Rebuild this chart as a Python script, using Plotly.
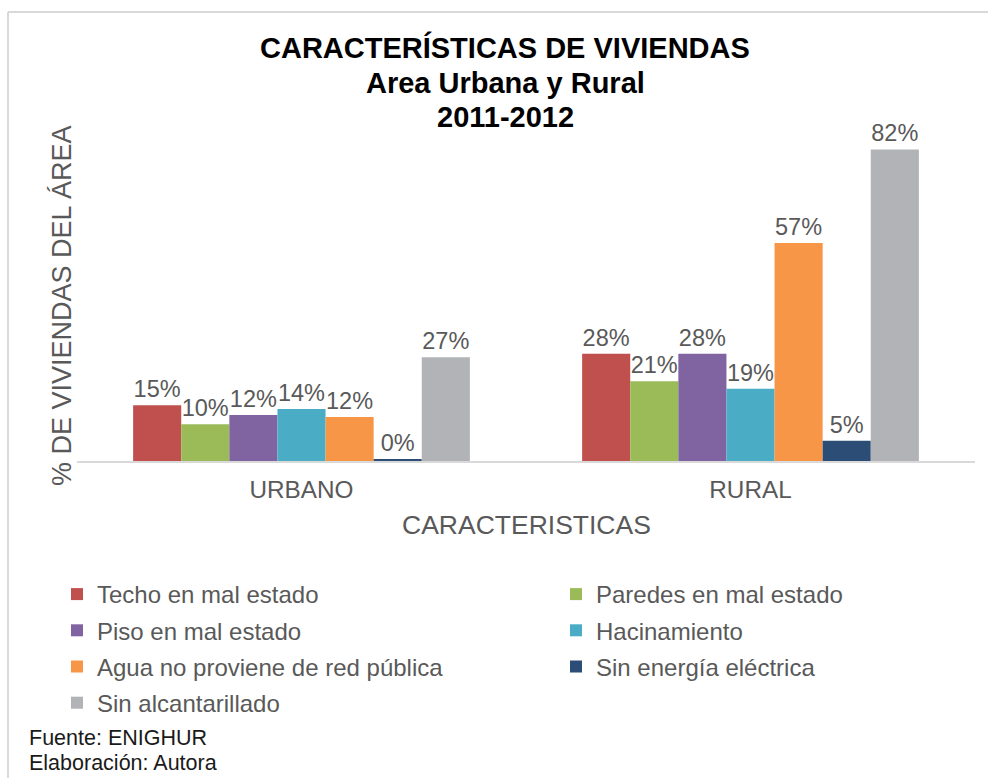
import plotly.graph_objects as go

categories = ["URBANO", "RURAL"]
series_names = [
    "Techo en mal estado",
    "Paredes en mal estado",
    "Piso en mal estado",
    "Hacinamiento",
    "Agua no proviene de red pública",
    "Sin energía eléctrica",
    "Sin alcantarillado",
]
urbano = [14.7, 9.7, 12.1, 13.7, 11.6, 0.3, 27.3]
rural = [28.2, 21.0, 28.2, 19.0, 57.4, 5.3, 82.0]
colors = ["#C0504D", "#9BBB59", "#8064A2", "#4BACC6", "#F79646", "#2C4D75", "#B2B3B7"]
title_lines = ["CARACTERÍSTICAS DE VIVIENDAS", "Area Urbana y Rural", "2011-2012"]

W, H = 988, 778
L, R, T, B = 77, 13, 138, 317
pw, ph = W - L - R, H - T - B

def px_x(x):
    return (x - L) / pw

def px_y(y):
    return (H - B - y) / ph

FONT = "Liberation Sans, Arial, sans-serif"
GREY = "#595959"

fig = go.Figure()
for i, name in enumerate(series_names):
    fig.add_trace(go.Bar(
        x=categories, y=[urbano[i], rural[i]], name=name,
        marker=dict(color=colors[i], line=dict(width=0)),
        texttemplate="%{y:.0f}%", textposition="outside",
        textfont=dict(size=23.5, color=GREY, family=FONT),
        cliponaxis=False, constraintext="none",
        legend="legend" if i % 2 == 0 else "legend2",
        legendgroup=f"g{i}",
    ))

leg_common = dict(
    orientation="v", xref="container", yref="container",
    xanchor="left", yanchor="top",
    font=dict(size=24, color=GREY, family=FONT),
    traceorder="grouped", tracegroupgap=2, itemwidth=30,
    bgcolor="rgba(0,0,0,0)",
)

annotations = [
    dict(text="% DE VIVIENDAS DEL ÁREA", textangle=-90,
         xref="paper", yref="paper", x=px_x(62), y=px_y(306),
         xanchor="center", yanchor="middle", showarrow=False,
         font=dict(size=27, color=GREY, family=FONT)),
    dict(text="CARACTERISTICAS",
         xref="paper", yref="paper", x=0.5, y=px_y(525),
         xanchor="center", yanchor="middle", showarrow=False,
         font=dict(size=26.5, color=GREY, family=FONT)),
    dict(text="Fuente: ENIGHUR",
         xref="paper", yref="paper", x=px_x(27), y=px_y(738),
         xanchor="left", yanchor="middle", showarrow=False,
         font=dict(size=21.5, color="#1a1a1a", family=FONT)),
    dict(text="Elaboración: Autora",
         xref="paper", yref="paper", x=px_x(27), y=px_y(763),
         xanchor="left", yanchor="middle", showarrow=False,
         font=dict(size=21.5, color="#1a1a1a", family=FONT)),
]
for k, (line, yc) in enumerate(zip(title_lines, [48, 83, 117])):
    annotations.append(dict(
        text=f"<b>{line}</b>", xref="paper", yref="paper",
        x=px_x(505), y=px_y(yc), xanchor="center", yanchor="middle",
        showarrow=False, font=dict(size=29, color="#000000", family=FONT)))

fig.update_layout(
    width=W, height=H,
    margin=dict(l=L, r=R, t=T, b=B, autoexpand=False),
    paper_bgcolor="white", plot_bgcolor="white",
    barmode="group", bargap=0.25, bargroupgap=0,
    font=dict(family=FONT, color=GREY),
    xaxis=dict(
        showline=True, linecolor="#D9D9D9", linewidth=2,
        ticks="", tickfont=dict(size=24.3, color=GREY, family=FONT),
        ticklabelstandoff=6,
        showgrid=False, zeroline=False,
    ),
    yaxis=dict(
        range=[0, 85], showticklabels=False, showgrid=False,
        zeroline=False, showline=False, ticks="",
    ),
    showlegend=True,
    legend=dict(leg_common, x=57 / W, y=1 - 572 / H),
    legend2=dict(leg_common, x=556 / W, y=1 - 572 / H),
    annotations=annotations,
    shapes=[
        dict(type="line", xref="paper", yref="paper",
             x0=px_x(8), x1=px_x(8), y0=px_y(H + 5), y1=px_y(12),
             line=dict(color="#D9D9D9", width=2)),
        dict(type="line", xref="paper", yref="paper",
             x0=px_x(8), x1=px_x(W + 5), y0=px_y(12), y1=px_y(12),
             line=dict(color="#D9D9D9", width=2)),
    ],
)

fig.write_html(
    "out.html",
    config={"displayModeBar": False},
    post_script="document.body.style.margin='0';document.body.style.overflow='hidden';",
)
